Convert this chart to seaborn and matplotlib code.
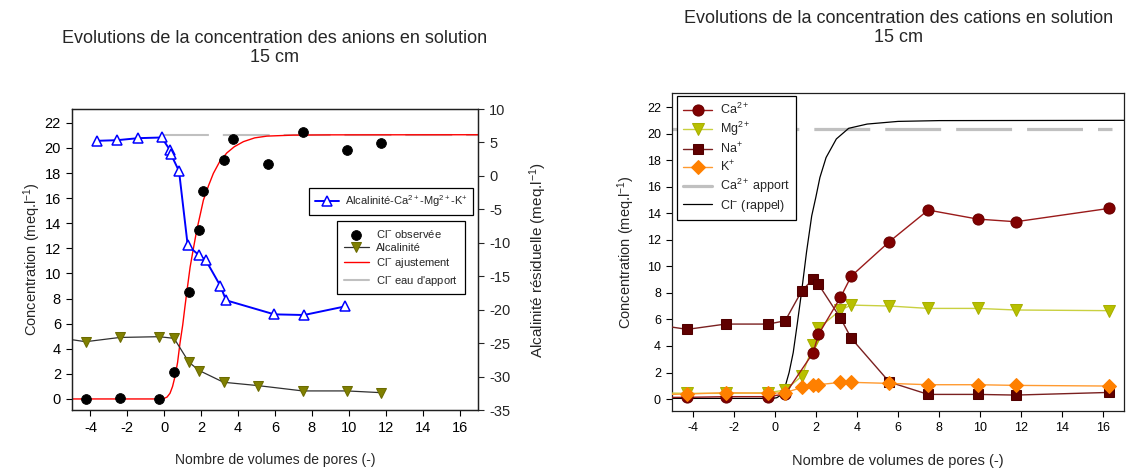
import seaborn as sns
import pandas as pd
import matplotlib.pyplot as plt
import numpy as np

# ---- data ----
# left chart: anions
cl_obs_x = [-4.26, -2.41, -0.29, 0.53, 1.34, 1.90, 2.12, 3.21, 3.73, 5.6, 7.5, 9.9, 11.76]
cl_obs_y = [0.0, 0.1, 0.0, 2.17, 8.54, 13.5, 16.6, 19.0, 20.7, 18.7, 21.3, 19.8, 20.4]

alk_x = [-6.2, -4.26, -2.41, -0.29, 0.53, 1.34, 1.90, 3.21, 5.1, 7.5, 9.9, 11.76]
alk_y = [4.98, 4.56, 4.9, 4.96, 4.83, 2.92, 2.26, 1.33, 1.06, 0.64, 0.64, 0.5]

cl_fit_x = [-5.0, -0.3, -0.05, 0.15, 0.31, 0.45, 0.58, 0.72, 0.85, 1.0, 1.12, 1.26, 1.4,
            1.58, 1.76, 1.95, 2.12, 2.4, 2.66, 3.0, 3.39, 3.8, 4.29, 4.9, 5.56, 7.0, 9.0, 17.0]
cl_fit_y = [0.0, 0.0, 0.02, 0.15, 0.45, 1.0, 1.78, 2.9, 4.43, 5.9, 7.35, 8.95, 10.5,
            12.0, 13.45, 14.7, 15.84, 17.0, 17.97, 18.9, 19.6, 20.1, 20.5, 20.8, 20.94, 21.02, 21.04, 21.05]

cl_apport_x = [-0.14, 17.0]
cl_apport_y = [21.0, 21.0]

res_x = [-3.67, -2.55, -1.41, -0.14, 0.31, 0.36, 0.8, 1.27, 1.9, 2.25, 3.03, 3.35, 5.96, 7.57, 9.82]
res_y = [5.24, 5.34, 5.64, 5.74, 3.85, 3.25, 0.71, -10.4, -11.9, -12.6, -16.4, -18.6, -20.7, -20.8, -19.5]

# right chart: cations
ca_x = [-6.2, -4.26, -2.39, -0.31, 0.51, 1.87, 2.13, 3.2, 3.73, 5.58, 7.47, 9.88, 11.73, 16.29]
ca_y = [0.12, 0.13, 0.18, 0.18, 0.38, 3.49, 4.87, 7.66, 9.27, 11.86, 14.24, 13.56, 13.36, 14.37]
mg_x = [-6.2, -4.26, -2.39, -0.31, 0.51, 1.32, 1.87, 2.13, 3.2, 3.73, 5.58, 7.47, 9.88, 11.73, 16.29]
mg_y = [0.48, 0.43, 0.43, 0.48, 0.68, 1.73, 4.07, 5.33, 6.71, 7.08, 7.01, 6.83, 6.83, 6.71, 6.66]
na_x = [-6.2, -4.26, -2.39, -0.31, 0.51, 1.32, 1.87, 2.13, 3.2, 3.73, 5.58, 7.47, 9.88, 11.73, 16.29]
na_y = [5.7, 5.25, 5.65, 5.65, 5.9, 8.16, 9.04, 8.64, 6.1, 4.57, 1.28, 0.35, 0.35, 0.3, 0.5]
k_x = [-6.2, -4.26, -2.39, -0.31, 0.51, 1.32, 1.87, 2.13, 3.2, 3.73, 5.58, 7.47, 9.88, 11.73, 16.29]
k_y = [0.32, 0.38, 0.48, 0.43, 0.48, 0.88, 1.03, 1.08, 1.26, 1.26, 1.18, 1.08, 1.08, 1.03, 0.98]

ca_apport_x = [-5.0, 16.4]
ca_apport_y = [20.35, 20.35]

cl_rap_x = [-5.0, -0.1, 0.1, 0.3, 0.5, 0.7, 0.9, 1.1, 1.3, 1.55, 1.8, 2.0, 2.2, 2.5,
            3.0, 3.6, 4.5, 5.1, 6.0, 8.0, 17.0]
cl_rap_y = [0.05, 0.05, 0.1, 0.3, 0.9, 2.0, 3.5, 5.7, 8.0, 11.1, 13.8, 15.2, 16.7, 18.2,
            19.6, 20.4, 20.72, 20.8, 20.92, 20.98, 21.0]

xticks = list(range(-4, 17, 2))
conc_ticks = list(range(0, 23, 2))
res_ticks = list(range(-35, 11, 5))

# ---- style ----
sns.set_style("ticks")
plt.rcParams['font.family'] = ['Liberation Sans', 'DejaVu Sans']
plt.rcParams['mathtext.fontset'] = 'custom'
plt.rcParams['mathtext.rm'] = 'Liberation Sans'
plt.rcParams['mathtext.it'] = 'Liberation Sans'
plt.rcParams['mathtext.default'] = 'regular'
plt.rcParams['axes.unicode_minus'] = False
plt.rcParams['axes.edgecolor'] = '#202020'
plt.rcParams['axes.linewidth'] = 0.9

fig = plt.figure(figsize=(11.26, 4.69), dpi=100)
ax1 = fig.add_axes([72 / 1126, 59 / 469, 406 / 1126, 301 / 469])
ax2 = fig.add_axes([672 / 1126, 58 / 469, 452 / 1126, 318 / 469])


def style_axis(ax, tick_fs, label_fs, xpad):
    ax.set_xlim(-5, 17)
    ax.set_xticks(xticks)
    ax.tick_params(axis='both', direction='out', length=4, width=0.8, labelsize=tick_fs,
                   colors='black', pad=4)
    for s in ax.spines.values():
        s.set_visible(True)
    ax.set_xlabel('Nombre de volumes de pores (-)', fontsize=label_fs, labelpad=xpad)
    ax.grid(False)


def box_legend(leg):
    leg.get_frame().set_linewidth(0.9)
    leg.get_frame().set_edgecolor('black')


# ---- left: anions ----
style_axis(ax1, 10.5, 10, 13)
ax1.set_ylim(-0.88, 23.1)
ax1.set_yticks(conc_ticks)
ax1.set_ylabel('Concentration (meq.l$^{-1}$)', fontsize=10.5, labelpad=1)

ax1b = ax1.twinx()
ax1b.set_ylim(-35, 10)
ax1b.set_yticks(res_ticks)
ax1b.tick_params(axis='y', direction='out', length=4, width=0.8, labelsize=10.5, pad=4)
ax1b.set_ylabel('Alcalinité résiduelle (meq.l$^{-1}$)', fontsize=11, labelpad=12)
ax1b.grid(False)

sns.lineplot(x=cl_apport_x, y=cl_apport_y, ax=ax1, color='#c0c0c0', lw=1.5,
             label="Cl$^{-}$ eau d'apport", zorder=1)
ax1.lines[-1].set_dashes((22.5, 6.7))
sns.lineplot(x=cl_fit_x, y=cl_fit_y, ax=ax1, color='#ff0000', lw=1.0,
             label='Cl$^{-}$ ajustement', zorder=2)
sns.lineplot(x=alk_x, y=alk_y, ax=ax1, color='#303030', lw=0.9, marker='v',
             markersize=7, markerfacecolor='#808000', markeredgecolor='#6b6b00',
             label='Alcalinité', zorder=3)
sns.scatterplot(x=cl_obs_x, y=cl_obs_y, ax=ax1, color='black', s=50,
                edgecolor='black', label='Cl$^{-}$ observée', zorder=4)

sns.lineplot(x=res_x, y=res_y, ax=ax1b, color='#0000ff', lw=1.4, marker='^',
             markersize=7, markerfacecolor='white', markeredgecolor='#0000ff',
             markeredgewidth=1.1, label='Alcalinité-Ca$^{2+}$-Mg$^{2+}$-K$^{+}$', sort=False)

h1, l1 = ax1.get_legend_handles_labels()
order = [3, 2, 1, 0]
leg1 = ax1.legend([h1[i] for i in order], [l1[i] for i in order], fontsize=8,
                  loc='upper left', bbox_to_anchor=(265 / 406, 1 - 112 / 301),
                  borderaxespad=0, frameon=True, fancybox=False, framealpha=1,
                  handlelength=2.3, handletextpad=0.6, labelspacing=0.3, borderpad=0.6)
box_legend(leg1)
for ln in leg1.get_lines():
    ln.set_linestyle('-')

h2, l2 = ax1b.get_legend_handles_labels()
leg2 = ax1b.legend(h2, l2, fontsize=8, loc='upper left',
                   bbox_to_anchor=(237 / 406, 1 - 79 / 301), borderaxespad=0,
                   frameon=True, fancybox=False, framealpha=1, handlelength=2.2,
                   handletextpad=0.5, borderpad=0.5)
box_legend(leg2)

# ---- right: cations ----
style_axis(ax2, 9, 10.5, 14)
ax2.set_ylim(-0.9, 23.06)
ax2.set_yticks(conc_ticks)
ax2.set_ylabel('Concentration (meq.l$^{-1}$)', fontsize=10.5, labelpad=7)

sns.lineplot(x=ca_x, y=ca_y, ax=ax2, color='#9a1a1a', lw=1.0, marker='o', markersize=8,
             markerfacecolor='#800000', markeredgecolor='#6a0000',
             label='Ca$^{2+}$', zorder=4)
sns.lineplot(x=mg_x, y=mg_y, ax=ax2, color='#c9d040', lw=1.0, marker='v', markersize=8,
             markerfacecolor='#b8c000', markeredgecolor='#a8b000',
             label='Mg$^{2+}$', zorder=3)
sns.lineplot(x=na_x, y=na_y, ax=ax2, color='#7a2020', lw=1.0, marker='s', markersize=7,
             markerfacecolor='#600000', markeredgecolor='#500000',
             label='Na$^{+}$', zorder=3)
sns.lineplot(x=k_x, y=k_y, ax=ax2, color='#ff9a30', lw=1.0, marker='D', markersize=7,
             markerfacecolor='#ff8000', markeredgecolor='#ff8000',
             label='K$^{+}$', zorder=5)
sns.lineplot(x=ca_apport_x, y=ca_apport_y, ax=ax2, color='#c0c0c0', lw=2.3,
             label='Ca$^{2+}$ apport', zorder=1)
ax2.lines[-1].set_dashes((17.5, 4.7))
sns.lineplot(x=cl_rap_x, y=cl_rap_y, ax=ax2, color='black', lw=0.9,
             label='Cl$^{-}$ (rappel)', zorder=2)

leg3 = ax2.legend(fontsize=9, loc='upper left', bbox_to_anchor=(5 / 452, 1 - 3 / 318),
                  borderaxespad=0, frameon=True, fancybox=False, framealpha=1,
                  handlelength=2.3, handletextpad=0.6, labelspacing=0.22, borderpad=0.5)
box_legend(leg3)
for ln in leg3.get_lines():
    ln.set_linestyle('-')

# ---- titles ----
fig.text(275 / 1126, 1 - 48 / 469, 'Evolutions de la concentration des anions en solution\n15 cm',
         ha='center', va='center', fontsize=13, linespacing=1.1)
fig.text(899 / 1126, 1 - 28 / 469, 'Evolutions de la concentration des cations en solution\n15 cm',
         ha='center', va='center', fontsize=13, linespacing=1.1)

plt.savefig('out.png', dpi=100)
